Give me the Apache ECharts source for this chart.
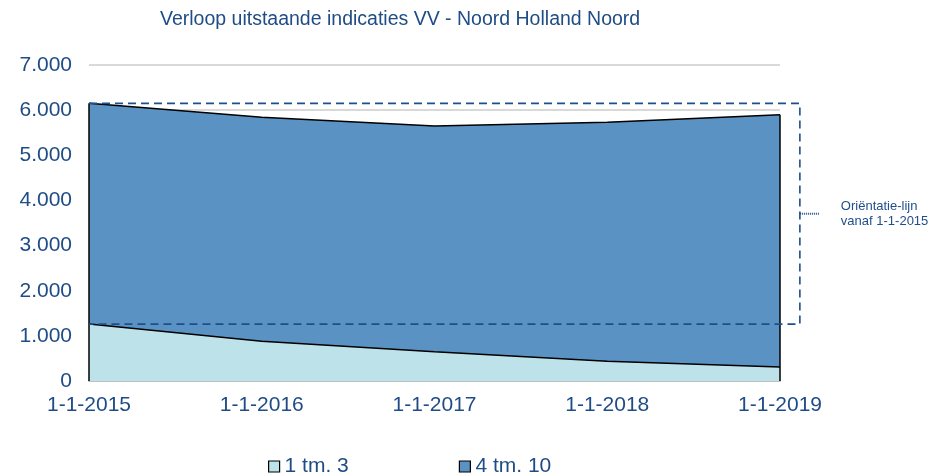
<!DOCTYPE html>
<html><head><meta charset="utf-8">
<script src="https://cdn.jsdelivr.net/npm/echarts@6/dist/echarts.min.js"></script>
<style>html,body{margin:0;padding:0;background:#fff}#c{width:944px;height:476px}</style>
</head><body><div id="c"></div>
<script>
const categories = ['1-1-2015', '1-1-2016', '1-1-2017', '1-1-2018', '1-1-2019'];
const years = [2015, 2016, 2017, 2018, 2019];
const low = [1260, 880, 650, 440, 310];          // 1 tm. 3
const high = [4890, 4960, 5000, 5290, 5590];     // 4 tm. 10
const seriesNames = ['1 tm. 3', '4 tm. 10'];
const orientTop = 6150;      // totaal op 1-1-2015
const orientBottom = 1260;   // 1 tm. 3 op 1-1-2015
const orientEndX = 2019.115;
const orientTickEndX = 2019.225;
const orientMid = 3705;
const orientText = 'Oriëntatie-lijn\nvanaf 1-1-2015';

const FONT = '"Liberation Sans", Arial, sans-serif';
const BLUE_TXT = '#1F4C86';
const LINE_BLUE = '#1F4E8C';
const fmt = v => v >= 1000 ? Math.floor(v / 1000) + '.' + String(v % 1000).padStart(3, '0') : String(v);

// layout
const W = 944, GL = 89, GR = 164, GT = 65, GB = 95;
const helperMax = 2019.3;
const w0 = W - GL - GR;
const w1 = w0 * (helperMax - years[0]) / (years[4] - years[0]);

const chart = echarts.init(document.getElementById('c'));
const firstTotal = low[0] + high[0];
const lastTotal = low[4] + high[4];
chart.setOption({
  animation: false,
  textStyle: { fontFamily: FONT },
  title: {
    text: 'Verloop uitstaande indicaties VV - Noord Holland Noord',
    left: 155, top: 5,
    textStyle: { fontFamily: FONT, fontSize: 19.5, fontWeight: 'normal', color: BLUE_TXT }
  },
  legend: {
    data: seriesNames,
    left: 263, top: 451,
    itemWidth: 11, itemHeight: 11, itemGap: 110,
    icon: 'rect',
    itemStyle: { borderColor: '#000', borderWidth: 1.2 },
    textStyle: { fontFamily: FONT, fontSize: 21, color: BLUE_TXT }
  },
  grid: [
    { left: GL, right: GR, top: GT, bottom: GB },
    { left: GL, width: w1, top: GT, bottom: GB }
  ],
  xAxis: [
    {
      type: 'category', data: categories, boundaryGap: false, gridIndex: 0,
      axisLine: { lineStyle: { color: '#BFBFBF', width: 2 } },
      axisTick: { show: false },
      splitLine: { show: false },
      axisLabel: { fontSize: 21, color: BLUE_TXT, margin: 14, fontFamily: FONT }
    },
    {
      type: 'value', gridIndex: 1, min: years[0], max: helperMax, show: false,
      splitLine: { show: false }
    }
  ],
  yAxis: [
    {
      type: 'value', min: 0, max: 7000, interval: 1000, gridIndex: 0,
      axisLine: { show: false }, axisTick: { show: false },
      splitLine: { lineStyle: { color: '#D9D9D9', width: 2 } },
      axisLabel: { formatter: fmt, fontSize: 21, color: BLUE_TXT, margin: 17, fontFamily: FONT }
    },
    {
      type: 'value', min: 0, max: 7000, interval: 1000, gridIndex: 1, show: false,
      splitLine: { show: false }
    }
  ],
  series: [
    {
      name: seriesNames[0], type: 'line', stack: 'tot',
      data: low,
      showSymbol: false,
      lineStyle: { color: '#000', width: 1.5 },
      itemStyle: { color: '#BDE2EA', borderColor: '#000' },
      areaStyle: { color: '#BDE2EA', opacity: 1 }
    },
    {
      name: seriesNames[1], type: 'line', stack: 'tot',
      data: high,
      showSymbol: false,
      lineStyle: { color: '#000', width: 1.5 },
      itemStyle: { color: '#5A93C3', borderColor: '#000' },
      areaStyle: { color: '#5A93C3', opacity: 1 }
    },
    {
      name: 'edgeL', type: 'line', silent: true, showSymbol: false,
      xAxisIndex: 1, yAxisIndex: 1,
      data: [[years[0], 0], [years[0], firstTotal]],
      lineStyle: { color: '#000', width: 1.5 }, z: 4
    },
    {
      name: 'edgeR', type: 'line', silent: true, showSymbol: false,
      xAxisIndex: 1, yAxisIndex: 1,
      data: [[years[4], 0], [years[4], lastTotal]],
      lineStyle: { color: '#000', width: 1.5 }, z: 4
    },
    {
      name: 'Oriëntatie', type: 'line', silent: true, showSymbol: false,
      xAxisIndex: 1, yAxisIndex: 1,
      data: [[years[0], orientTop], [orientEndX, orientTop], [orientEndX, orientBottom], [years[0], orientBottom]],
      lineStyle: { color: LINE_BLUE, width: 1.6, type: [8, 5] },
      z: 5
    },
    {
      name: 'OriëntatieTick', type: 'line', silent: true, showSymbol: false,
      xAxisIndex: 1, yAxisIndex: 1,
      data: [[orientEndX, orientMid], [orientTickEndX, orientMid]],
      lineStyle: { color: LINE_BLUE, width: 2, type: [1, 1] },
      endLabel: {
        show: true, formatter: orientText, distance: 22,
        fontSize: 13, lineHeight: 15, color: LINE_BLUE, fontFamily: FONT, align: 'left'
      },
      z: 5
    }
  ]
});
</script></body></html>
